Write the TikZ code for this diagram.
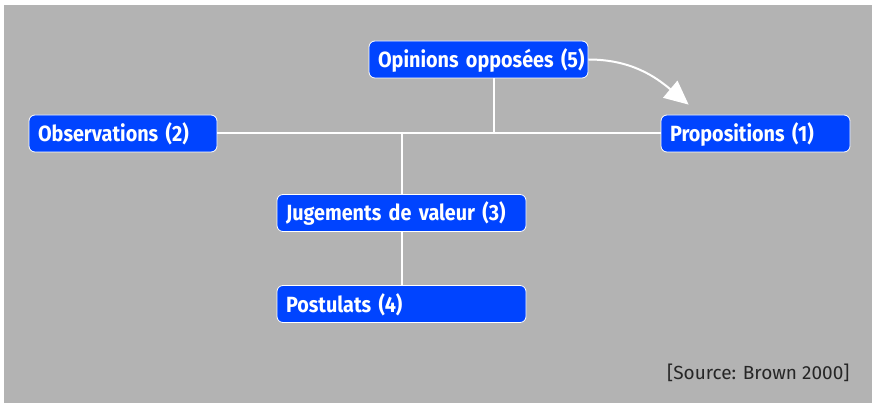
\documentclass[tikz,border=0pt]{standalone}
\usepackage{fontspec}
\setmainfont{Fira Sans}
\newfontfamily\boxfont[FakeStretch=0.9]{Fira Sans Bold}
\usetikzlibrary{calc,arrows.meta}
\definecolor{panelgray}{RGB}{179,179,179}
\definecolor{boxblue}{RGB}{0,68,255}
\tikzset{
  conceptbox/.style={draw=white, line width=0.8pt, fill=boxblue, rounded corners=6pt,
    minimum height=37pt, inner xsep=9pt, inner ysep=0pt, align=left,
    text height=16pt, text depth=0pt,
    font=\boxfont\fontsize{22}{24}\selectfont, text=white},
  link/.style={draw=white, line width=2pt},
}
\begin{document}
\begin{tikzpicture}[x=1pt,y=-1pt]
  \useasboundingbox (0,0) rectangle (872,403);
  \fill[panelgray] (4,5) rectangle (872,403);

  \node[conceptbox, text width=170pt] (obs) at (123,133.5) {\mbox{Observations (2)}\hfill};
  \node[conceptbox, text width=201pt] (opp) at (478.5,59.5) {\mbox{Opinions opposées (5)}\hfill};
  \node[conceptbox, text width=171pt] (prop) at (755.5,133.5) {\mbox{Propositions (1)}\hfill};
  \node[conceptbox, text width=231pt] (jug) at (401.5,213) {\mbox{Jugements de valeur (3)}\hfill};
  \node[conceptbox, text width=231pt] (post) at (401.5,304) {\mbox{Postulats (4)}\hfill};

  \coordinate (oppfoot) at ($(opp.south)+(15.5,0)$);
  \draw[link] (obs.east) -- (prop.west);
  \draw[link] (oppfoot) -- (oppfoot |- obs.east);
  \draw[link] (jug.north) -- (jug.north |- obs.east);
  \draw[link] (jug.south) -- (post.north);
  \draw[link, -{Triangle[length=24pt,width=22pt]}] (opp.east) to[out=0,in=140] ($(prop.north west)+(28,-10)$);

  \node[anchor=east, font=\fontsize{19}{21}\selectfont, text=black!85] (src) at (853,373) {[Source: Brown 2000]};
\end{tikzpicture}
\end{document}
